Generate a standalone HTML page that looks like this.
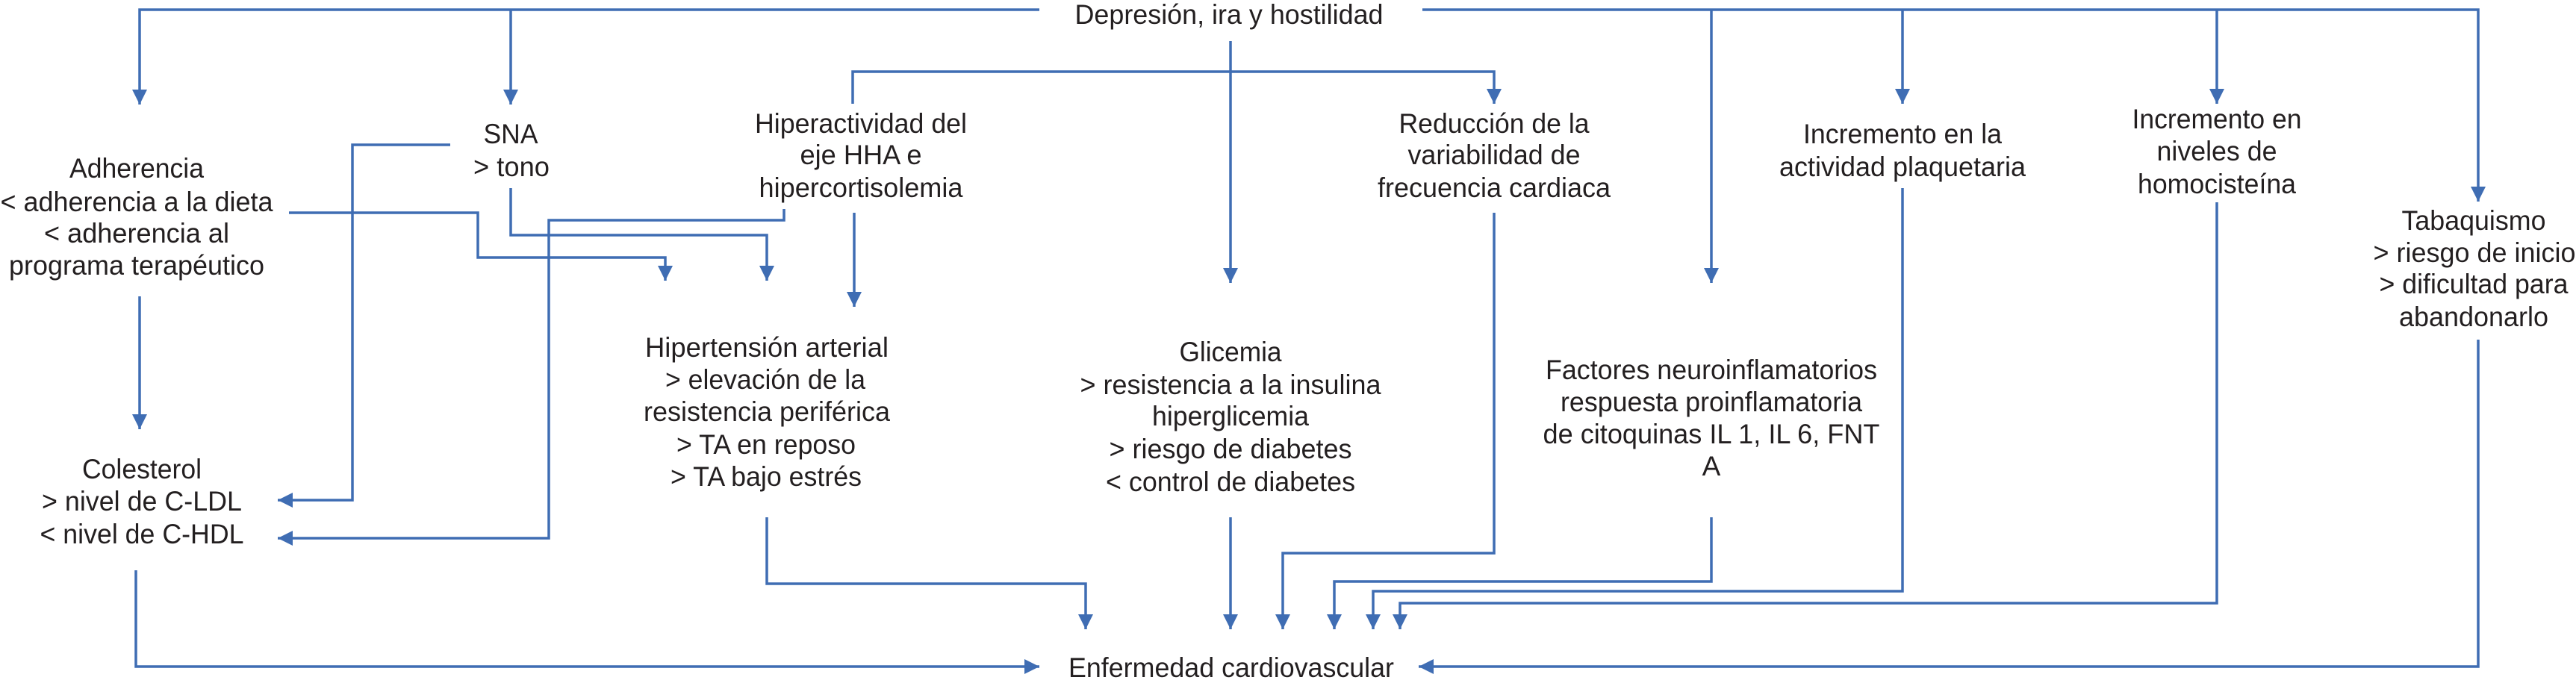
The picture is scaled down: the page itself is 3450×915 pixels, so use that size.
<!DOCTYPE html>
<html><head><meta charset="utf-8"><style>html,body{margin:0;padding:0;background:#fff}svg{display:block}</style></head>
<body>
<svg width="3450" height="915" viewBox="0 0 3450 915" xmlns="http://www.w3.org/2000/svg">
<defs>
<marker id="a" markerWidth="22" markerHeight="20" refX="20" refY="10" orient="auto" markerUnits="userSpaceOnUse">
<polygon points="0,0 20,10 0,20" fill="#3f6db3"/>
</marker>
</defs>
<g fill="none" stroke="#3f6db3" stroke-width="3.5">
<!-- top line -->
<polyline points="1392,13 187,13 187,140" marker-end="url(#a)"/>
<line x1="684" y1="13" x2="684" y2="140" marker-end="url(#a)"/>
<polyline points="1905,13 3319,13 3319,270" marker-end="url(#a)"/>
<line x1="2292" y1="13" x2="2292" y2="379" marker-end="url(#a)"/>
<line x1="2548" y1="13" x2="2548" y2="139" marker-end="url(#a)"/>
<line x1="2969" y1="13" x2="2969" y2="139" marker-end="url(#a)"/>
<!-- center down -->
<line x1="1648" y1="55" x2="1648" y2="379" marker-end="url(#a)"/>
<polyline points="1142,139 1142,96 2001,96 2001,139" marker-end="url(#a)"/>
<!-- SNA -->
<polyline points="603,194 472,194 472,670 372,670" marker-end="url(#a)"/>
<polyline points="684,252 684,315 1027,315 1027,376" marker-end="url(#a)"/>
<!-- Adherencia -->
<polyline points="387,285 640,285 640,345 891,345 891,376" marker-end="url(#a)"/>
<line x1="187" y1="397" x2="187" y2="575" marker-end="url(#a)"/>
<!-- HHA -->
<polyline points="1050,280 1050,295 735,295 735,721 372,721" marker-end="url(#a)"/>
<line x1="1144" y1="285" x2="1144" y2="411" marker-end="url(#a)"/>
<!-- Colesterol -->
<polyline points="182,764 182,893 1392,893" marker-end="url(#a)"/>
<!-- Hipertension -->
<polyline points="1027,693 1027,782 1454,782 1454,843" marker-end="url(#a)"/>
<line x1="1648" y1="693" x2="1648" y2="843" marker-end="url(#a)"/>
<polyline points="2001,285 2001,741 1718,741 1718,843" marker-end="url(#a)"/>
<polyline points="2292,693 2292,779 1787,779 1787,843" marker-end="url(#a)"/>
<polyline points="2548,252 2548,792 1839,792 1839,843" marker-end="url(#a)"/>
<polyline points="2969,271 2969,808 1875,808 1875,843" marker-end="url(#a)"/>
<polyline points="3319,455 3319,893 1900,893" marker-end="url(#a)"/>
</g>
<g font-family="Liberation Sans, Arial, sans-serif" font-size="37" fill="#231f20" text-anchor="middle" lengthAdjust="spacingAndGlyphs">
<text x="1646" y="32" textLength="413" lengthAdjust="spacingAndGlyphs">Depresión, ira y hostilidad</text>
<text x="183" y="238" textLength="180" lengthAdjust="spacingAndGlyphs">Adherencia</text>
<text x="183" y="283" textLength="365" lengthAdjust="spacingAndGlyphs">&lt; adherencia a la dieta</text>
<text x="183" y="325" textLength="248" lengthAdjust="spacingAndGlyphs">&lt; adherencia al</text>
<text x="183" y="368" textLength="342" lengthAdjust="spacingAndGlyphs">programa terapéutico</text>
<text x="684" y="192" textLength="73" lengthAdjust="spacingAndGlyphs">SNA</text>
<text x="685" y="236" textLength="102" lengthAdjust="spacingAndGlyphs">&gt; tono</text>
<text x="190" y="641" textLength="160" lengthAdjust="spacingAndGlyphs">Colesterol</text>
<text x="190" y="684" textLength="268" lengthAdjust="spacingAndGlyphs">&gt; nivel de C-LDL</text>
<text x="190" y="728" textLength="273" lengthAdjust="spacingAndGlyphs">&lt; nivel de C-HDL</text>
<text x="1153" y="178" textLength="284" lengthAdjust="spacingAndGlyphs">Hiperactividad del</text>
<text x="1153" y="220" textLength="163" lengthAdjust="spacingAndGlyphs">eje HHA e</text>
<text x="1153" y="264" textLength="273" lengthAdjust="spacingAndGlyphs">hipercortisolemia</text>
<text x="1027" y="478" textLength="326" lengthAdjust="spacingAndGlyphs">Hipertensión arterial</text>
<text x="1025" y="521" textLength="268" lengthAdjust="spacingAndGlyphs">&gt; elevación de la</text>
<text x="1027" y="564" textLength="330" lengthAdjust="spacingAndGlyphs">resistencia periférica</text>
<text x="1026" y="608" textLength="240" lengthAdjust="spacingAndGlyphs">&gt; TA en reposo</text>
<text x="1026" y="651" textLength="256" lengthAdjust="spacingAndGlyphs">&gt; TA bajo estrés</text>
<text x="2001" y="178" textLength="255" lengthAdjust="spacingAndGlyphs">Reducción de la</text>
<text x="2001" y="220" textLength="231" lengthAdjust="spacingAndGlyphs">variabilidad de</text>
<text x="2001" y="264" textLength="312" lengthAdjust="spacingAndGlyphs">frecuencia cardiaca</text>
<text x="1648" y="484" textLength="137" lengthAdjust="spacingAndGlyphs">Glicemia</text>
<text x="1648" y="528" textLength="403" lengthAdjust="spacingAndGlyphs">&gt; resistencia a la insulina</text>
<text x="1648" y="570" textLength="210" lengthAdjust="spacingAndGlyphs">hiperglicemia</text>
<text x="1648" y="614" textLength="325" lengthAdjust="spacingAndGlyphs">&gt; riesgo de diabetes</text>
<text x="1648" y="658" textLength="334" lengthAdjust="spacingAndGlyphs">&lt; control de diabetes</text>
<text x="2292" y="508" textLength="444" lengthAdjust="spacingAndGlyphs">Factores neuroinflamatorios</text>
<text x="2292" y="551" textLength="404" lengthAdjust="spacingAndGlyphs">respuesta proinflamatoria</text>
<text x="2292" y="594" textLength="451" lengthAdjust="spacingAndGlyphs">de citoquinas IL 1, IL 6, FNT</text>
<text x="2292" y="637">A</text>
<text x="2548" y="192" textLength="266" lengthAdjust="spacingAndGlyphs">Incremento en la</text>
<text x="2548" y="236" textLength="330" lengthAdjust="spacingAndGlyphs">actividad plaquetaria</text>
<text x="2969" y="172" textLength="227" lengthAdjust="spacingAndGlyphs">Incremento en</text>
<text x="2969" y="215" textLength="161" lengthAdjust="spacingAndGlyphs">niveles de</text>
<text x="2969" y="259" textLength="212" lengthAdjust="spacingAndGlyphs">homocisteína</text>
<text x="3313" y="308" textLength="193" lengthAdjust="spacingAndGlyphs">Tabaquismo</text>
<text x="3314" y="351" textLength="271" lengthAdjust="spacingAndGlyphs">&gt; riesgo de inicio</text>
<text x="3313" y="393" textLength="253" lengthAdjust="spacingAndGlyphs">&gt; dificultad para</text>
<text x="3313" y="437" textLength="200" lengthAdjust="spacingAndGlyphs">abandonarlo</text>
<text x="1649" y="907" textLength="436" lengthAdjust="spacingAndGlyphs">Enfermedad cardiovascular</text>
</g>
</svg>
</body></html>
